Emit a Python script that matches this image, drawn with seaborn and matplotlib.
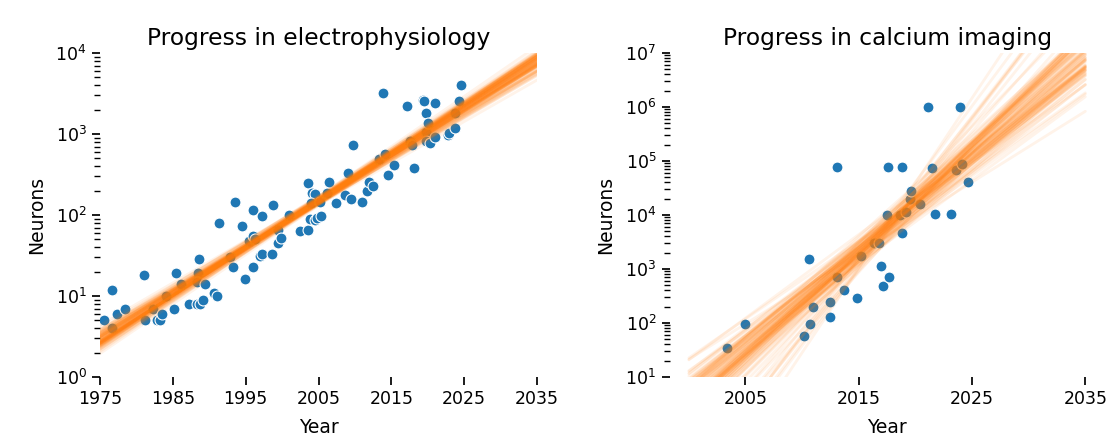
import numpy as np
import pandas as pd
import matplotlib
matplotlib.use("Agg")
import matplotlib.pyplot as plt
import seaborn as sns

### DATA

ephys_year = [1975.6, 1976.7, 1976.7, 1977.3, 1978.4, 1981.0, 1981.2, 1982.3, 1982.8, 1983.3,
              1983.5, 1984.0, 1985.2, 1985.5, 1986.1, 1987.2, 1988.3, 1988.7, 1988.6, 1988.5,
              1988.3, 1989.4, 1989.2, 1990.6, 1991.0, 1991.3, 1992.9, 1993.2, 1993.5, 1994.5,
              1994.9, 1995.4, 1996.0, 1996.0, 1996.3, 1996.0, 1997.0, 1997.2, 1997.2, 1998.7,
              1998.6, 1999.5, 1999.5, 1999.9, 2000.9, 2002.4, 2003.5, 2003.5, 2003.8, 2004.1,
              2004.5, 2004.0, 2004.5, 2004.8, 2005.2, 2005.3, 2006.2, 2006.5, 2007.4, 2008.7,
              2009.1, 2009.5, 2009.7, 2011.0, 2011.6, 2012.0, 2012.5, 2013.3, 2013.9, 2014.1,
              2014.5, 2015.4, 2017.1, 2017.6, 2017.8, 2018.1, 2019.3, 2019.5, 2019.8, 2019.8,
              2019.8, 2020.1, 2020.3, 2021.0, 2021.0, 2022.8, 2022.9, 2023.8, 2023.8, 2024.3,
              2024.6]
ephys_neurons = [5, 12, 4, 6, 7, 18, 5, 7, 5, 5,
                 6, 10, 7, 19, 14, 8, 8, 8, 29, 19,
                 15, 14, 9, 11, 10, 80, 30, 23, 146, 73,
                 16, 48, 115, 55, 50, 23, 31, 33, 97, 133,
                 33, 65, 45, 52, 100, 64, 66, 246, 89, 185,
                 182, 139, 87, 91, 146, 97, 189, 258, 139, 177,
                 326, 156, 730, 146, 200, 258, 228, 490, 3170, 560,
                 310, 415, 2220, 808, 730, 378, 2630, 2570, 1800, 1070,
                 830, 1380, 780, 2440, 930, 970, 1040, 1830, 1170, 2560,
                 4000]

calcium_year = [2003.4, 2005.0, 2010.2, 2010.6, 2010.7, 2011.0, 2012.5, 2012.5, 2013.1, 2013.1,
                2013.7, 2014.8, 2015.2, 2016.3, 2016.8, 2017.0, 2017.1, 2017.5, 2017.6, 2017.7,
                2018.6, 2018.8, 2018.8, 2019.2, 2019.5, 2019.6, 2020.4, 2021.1, 2021.5, 2021.7,
                2023.1, 2023.6, 2023.9, 2024.1, 2024.6]
calcium_neurons = [34, 96, 57, 1560, 96, 195, 130, 240, 720, 78000,
                   400, 295, 1740, 3000, 3000, 1150, 490, 10000, 78000, 700,
                   10000, 4600, 78000, 11500, 19500, 28000, 16000, 1000000, 73000, 10300,
                   10300, 68000, 1000000, 87000, 40000]


# Exponential fits on half-samples of the points (deterministic quadratic-residue
# design instead of random bootstrap draws)
def half_sample_fits(years, neurons, x0, x1, n_fits=100):
    x = np.asarray(years, dtype=float)
    y = np.log10(np.asarray(neurons, dtype=float))
    n = len(x)
    p = 2
    while p <= n or any(p % d == 0 for d in range(2, int(p ** 0.5) + 1)):
        p += 1
    idx = np.arange(n)
    rows = []
    for b in range(n_fits):
        a = 1 + b % (p - 1)
        c = (7 * b + 3) % p
        keep = ((a * idx * idx + c * idx + b) % p) < (p + 1) // 2
        slope, icpt = np.polyfit(x[keep], y[keep], 1)
        for g in (x0, x1):
            rows.append({"Year": g, "Neurons": 10 ** (slope * g + icpt), "fit": b})
    return pd.DataFrame(rows)


sns.set_theme(style="ticks", rc={"text.color": "black", "axes.labelcolor": "black",
                                 "xtick.color": "black", "ytick.color": "black"})

fig = plt.figure(figsize=(11.11, 4.44), dpi=100)
ax1 = fig.add_axes([100 / 1111, 67 / 444, 437 / 1111, 324 / 444])
ax2 = fig.add_axes([669.6 / 1111, 67 / 444, 435 / 1111, 324 / 444])

panels = [
    (ax1, ephys_year, ephys_neurons, "Progress in electrophysiology", (1975, 2035), (1975, 2035), (1, 1e4),
     [1975, 1985, 1995, 2005, 2015, 2025, 2035]),
    (ax2, calcium_year, calcium_neurons, "Progress in calcium imaging", (2000, 2035), (1998.3, 2036.7), (10, 1e7),
     [2005, 2015, 2025, 2035]),
]

for ax, yrs, nrn, title, span, xlim, ylim, xticks in panels:
    sns.scatterplot(x=yrs, y=nrn, ax=ax, s=62, color="#1f77b4", edgecolor="white", linewidth=0.8, zorder=2)
    fits = half_sample_fits(yrs, nrn, span[0], span[1])
    sns.lineplot(data=fits, x="Year", y="Neurons", units="fit", estimator=None,
                 color="#ff7f0e", alpha=0.09, linewidth=2, ax=ax, zorder=3)
    ax.set_yscale("log")
    ax.set_xlim(*xlim)
    ax.set_ylim(*ylim)
    ax.set_xticks(xticks)
    ax.set_title(title, fontsize=16.8)
    ax.set_xlabel("Year", fontsize=13.5, labelpad=7)
    ax.set_ylabel("Neurons", fontsize=13.5, labelpad=7)
    ax.tick_params(labelsize=12.5)

sns.despine(fig=fig, left=True, bottom=True)

fig.savefig("out.png", dpi=100)
